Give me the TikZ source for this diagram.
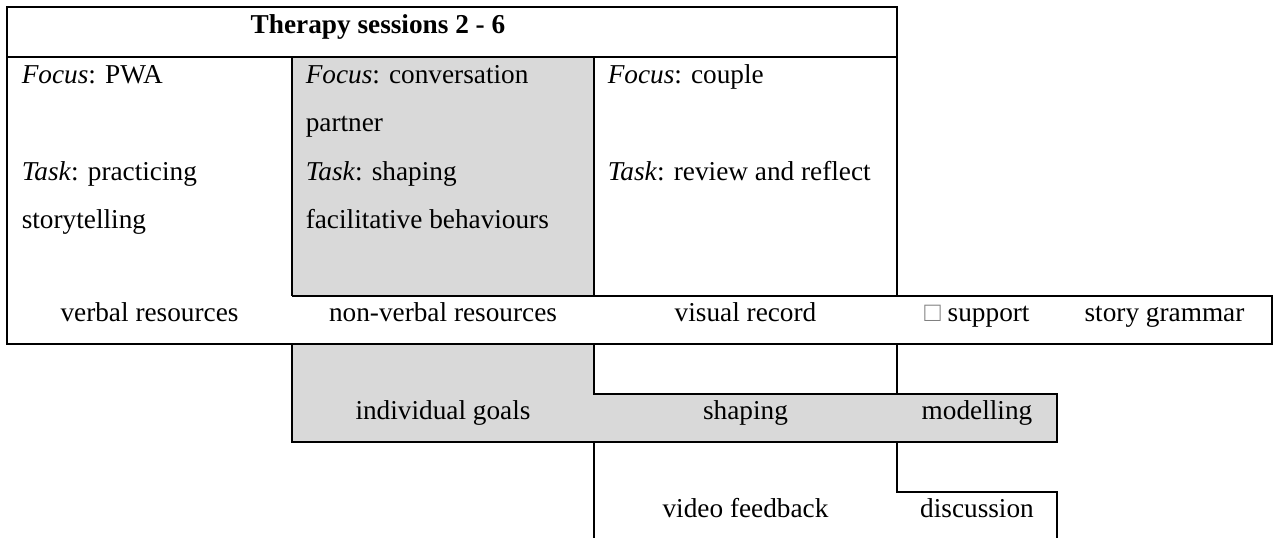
\documentclass[tikz,border=0pt]{standalone}
\usepackage{fontspec}
\setmainfont{Liberation Serif}
\definecolor{cellgray}{HTML}{D9D9D9}

\begin{document}
\begin{tikzpicture}[x=0.44pt,y=-0.44pt,line width=0.7pt,
    font=\fontsize{12}{14}\selectfont,
    celltext/.style={anchor=base west,inner sep=0pt},
    bandtext/.style={anchor=base,inner sep=0pt}]
  \useasboundingbox (0,0) rectangle (1276,538);

  % Define points
  \coordinate (A) at (7,7);
  \coordinate (B) at (897,7);
  \coordinate (C) at (1272,296);
  \coordinate (D) at (7,344);

  % Grey cells
  \fill[cellgray] (292,57) rectangle (594,296);
  \fill[cellgray] (292,344) rectangle (594,442);
  \fill[cellgray] (594,394) rectangle (1057,442);

  % Sessions block
  \draw (7,296) -- (A) -- (B) -- (897,296);
  \draw (7,57) -- (897,57);
  \draw (292,57) -- (292,296);
  \draw (594,57) -- (594,296);

  % Resources band
  \draw (292,296) -- (C) -- (1272,344) -- (D) -- (7,296);

  % Steps underneath
  \draw (292,344) -- (292,442) -- (1057,442) -- (1057,394) -- (594,394) -- (594,344);
  \draw (897,344) -- (897,394);
  \draw (594,442) -- (594,538);
  \draw (897,442) -- (897,492) -- (1057,492) -- (1057,538);

  % Labels
  \node[bandtext] (title) at (378,33) {\textbf{Therapy sessions 2 - 6}};

  \node[celltext] (focusA) at (21,83) {\textit{Focus}: PWA};
  \node[celltext] (taskA) at (21,180) {\textit{Task}: practicing};
  \node[celltext] (taskAb) at (21,228.5) {storytelling};

  \node[celltext] (focusB) at (305,83) {\textit{Focus}: conversation};
  \node[celltext] (focusBb) at (305,131.5) {partner};
  \node[celltext] (taskB) at (305,180) {\textit{Task}: shaping};
  \node[celltext] (taskBb) at (305,228.5) {facilitative behaviours};

  \node[celltext] (focusC) at (607,83) {\textit{Focus}: couple};
  \node[celltext] (taskC) at (607,180) {\textit{Task}: review and reflect};

  \node[bandtext] (verbal) at (149.5,321) {verbal resources};
  \node[bandtext] (nonverbal) at (443,321) {non-verbal resources};
  \node[bandtext] (visual) at (745.5,321) {visual record};
  \node[bandtext] (support) at (977,321) {{\color{gray}□} support};
  \node[bandtext] (grammar) at (1164.5,321) {story grammar};

  \node[bandtext] (goals) at (443,419) {individual goals};
  \node[bandtext] (shaping) at (745.5,419) {shaping};
  \node[bandtext] (modelling) at (977,419) {modelling};

  \node[bandtext] (video) at (745.5,517) {video feedback};
  \node[bandtext] (discussion) at (977,517) {discussion};
\end{tikzpicture}
\end{document}
